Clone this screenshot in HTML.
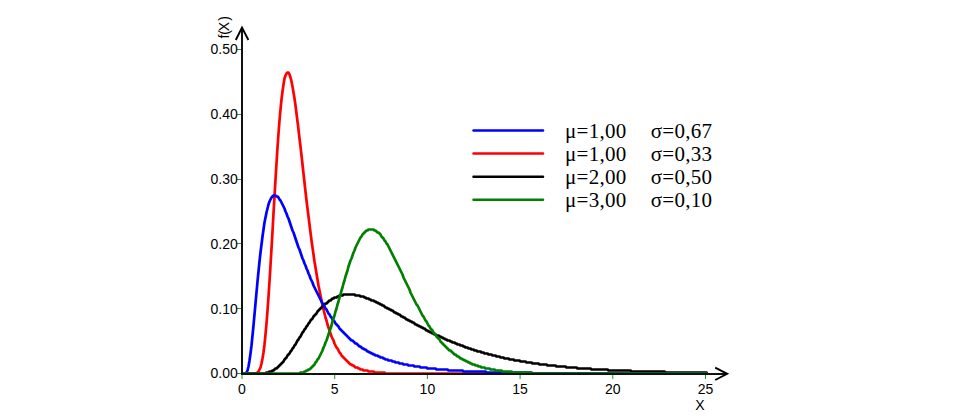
<!DOCTYPE html>
<html><head><meta charset="utf-8"><title>Lognormal distribution</title>
<style>
html,body{margin:0;padding:0;background:#fff;}
body{width:963px;height:418px;overflow:hidden;}
svg{display:block;}
.ax{font-family:"Liberation Sans",Arial,sans-serif;font-size:14px;fill:#000;}
.lg{font-family:"Liberation Serif","Times New Roman",serif;font-size:21px;fill:#000;letter-spacing:0.3px;}
</style></head><body>
<svg width="963" height="418" viewBox="0 0 963 418">
<polyline points="242.50,373.50 256.50,373.50 258.50,371.50 260.50,367.50 261.50,363.50 262.50,358.50 263.50,352.50 264.50,344.50 265.50,334.50 266.50,323.50 267.50,310.50 268.50,296.50 269.50,281.50 270.50,265.50 272.50,231.50 273.50,213.50 275.50,179.50 277.50,147.50 278.50,133.50 279.50,120.50 280.50,109.50 281.50,99.50 282.50,91.50 283.50,84.50 284.50,78.50 285.50,75.50 286.50,73.50 287.50,72.50 288.50,72.50 289.50,74.50 290.50,77.50 291.50,81.50 292.50,86.50 294.50,98.50 295.50,105.50 298.50,129.50 299.50,138.50 300.50,146.50 306.50,200.50 311.50,240.50 314.50,261.50 318.50,285.50 322.50,305.50 325.50,317.50 326.50,320.50 327.50,324.50 331.50,336.50 333.50,340.50 334.50,343.50 336.50,347.50 337.50,348.50 339.50,352.50 340.50,353.50 341.50,355.50 350.50,364.50 351.50,364.50 352.50,365.50 353.50,365.50 355.50,367.50 357.50,367.50 358.50,368.50 359.50,368.50 360.50,369.50 362.50,369.50 363.50,370.50 367.50,370.50 368.50,371.50 373.50,371.50 374.50,372.50 384.50,372.50 385.50,373.50 706.50,373.50" fill="none" stroke="#ff0000" stroke-width="2.7" stroke-linejoin="round" stroke-linecap="round"/>
<polyline points="242.50,373.50 265.50,373.50 266.50,372.50 268.50,372.50 269.50,371.50 271.50,371.50 272.50,370.50 273.50,370.50 275.50,368.50 276.50,368.50 283.50,361.50 284.50,359.50 286.50,357.50 287.50,355.50 289.50,353.50 290.50,351.50 291.50,350.50 292.50,348.50 293.50,347.50 294.50,345.50 295.50,344.50 297.50,340.50 298.50,339.50 299.50,337.50 300.50,336.50 302.50,332.50 303.50,331.50 304.50,329.50 305.50,328.50 306.50,326.50 307.50,325.50 308.50,323.50 309.50,322.50 310.50,320.50 312.50,318.50 313.50,316.50 316.50,313.50 317.50,311.50 325.50,303.50 326.50,303.50 329.50,300.50 330.50,300.50 332.50,298.50 333.50,298.50 334.50,297.50 336.50,297.50 337.50,296.50 338.50,296.50 339.50,295.50 342.50,295.50 343.50,294.50 354.50,294.50 355.50,295.50 359.50,295.50 360.50,296.50 363.50,296.50 364.50,297.50 365.50,297.50 366.50,298.50 368.50,298.50 369.50,299.50 370.50,299.50 371.50,300.50 373.50,300.50 374.50,301.50 375.50,301.50 376.50,302.50 377.50,302.50 378.50,303.50 379.50,303.50 380.50,304.50 381.50,304.50 382.50,305.50 383.50,305.50 385.50,307.50 386.50,307.50 387.50,308.50 388.50,308.50 389.50,309.50 390.50,309.50 391.50,310.50 392.50,310.50 394.50,312.50 395.50,312.50 396.50,313.50 397.50,313.50 398.50,314.50 399.50,314.50 401.50,316.50 402.50,316.50 403.50,317.50 404.50,317.50 406.50,319.50 407.50,319.50 408.50,320.50 409.50,320.50 410.50,321.50 411.50,321.50 412.50,322.50 413.50,322.50 415.50,324.50 416.50,324.50 417.50,325.50 418.50,325.50 419.50,326.50 420.50,326.50 421.50,327.50 422.50,327.50 423.50,328.50 424.50,328.50 426.50,330.50 427.50,330.50 428.50,331.50 429.50,331.50 430.50,332.50 431.50,332.50 432.50,333.50 433.50,333.50 434.50,334.50 435.50,334.50 436.50,335.50 438.50,335.50 439.50,336.50 440.50,336.50 441.50,337.50 442.50,337.50 443.50,338.50 444.50,338.50 445.50,339.50 446.50,339.50 447.50,340.50 449.50,340.50 450.50,341.50 451.50,341.50 452.50,342.50 454.50,342.50 455.50,343.50 456.50,343.50 457.50,344.50 459.50,344.50 460.50,345.50 462.50,345.50 463.50,346.50 464.50,346.50 465.50,347.50 467.50,347.50 468.50,348.50 470.50,348.50 471.50,349.50 473.50,349.50 474.50,350.50 476.50,350.50 477.50,351.50 480.50,351.50 481.50,352.50 483.50,352.50 484.50,353.50 487.50,353.50 488.50,354.50 491.50,354.50 492.50,355.50 495.50,355.50 496.50,356.50 499.50,356.50 500.50,357.50 503.50,357.50 504.50,358.50 508.50,358.50 509.50,359.50 513.50,359.50 514.50,360.50 519.50,360.50 520.50,361.50 525.50,361.50 526.50,362.50 531.50,362.50 532.50,363.50 538.50,363.50 539.50,364.50 546.50,364.50 547.50,365.50 555.50,365.50 556.50,366.50 565.50,366.50 566.50,367.50 576.50,367.50 577.50,368.50 590.50,368.50 591.50,369.50 607.50,369.50 608.50,370.50 630.50,370.50 631.50,371.50 664.50,371.50 665.50,372.50 706.50,372.50" fill="none" stroke="#000000" stroke-width="2.7" stroke-linejoin="round" stroke-linecap="round"/>
<polyline points="242.50,373.50 245.50,373.50 246.50,372.50 247.50,370.50 248.50,366.50 249.50,360.50 250.50,353.50 251.50,345.50 253.50,325.50 257.50,281.50 259.50,261.50 260.50,252.50 262.50,236.50 264.50,222.50 266.50,212.50 268.50,204.50 269.50,201.50 271.50,197.50 273.50,195.50 275.50,195.50 276.50,196.50 277.50,196.50 278.50,197.50 279.50,199.50 280.50,200.50 284.50,208.50 285.50,211.50 286.50,213.50 287.50,216.50 288.50,218.50 292.50,230.50 293.50,232.50 298.50,247.50 299.50,249.50 302.50,258.50 303.50,260.50 304.50,263.50 305.50,265.50 306.50,268.50 307.50,270.50 308.50,273.50 309.50,275.50 310.50,278.50 312.50,282.50 313.50,285.50 322.50,303.50 323.50,304.50 325.50,308.50 326.50,309.50 328.50,313.50 329.50,314.50 330.50,316.50 331.50,317.50 332.50,319.50 334.50,321.50 335.50,323.50 338.50,326.50 339.50,328.50 351.50,340.50 352.50,340.50 355.50,343.50 356.50,343.50 359.50,346.50 360.50,346.50 362.50,348.50 363.50,348.50 364.50,349.50 365.50,349.50 367.50,351.50 368.50,351.50 369.50,352.50 370.50,352.50 371.50,353.50 372.50,353.50 373.50,354.50 374.50,354.50 375.50,355.50 377.50,355.50 378.50,356.50 379.50,356.50 380.50,357.50 382.50,357.50 383.50,358.50 384.50,358.50 385.50,359.50 387.50,359.50 388.50,360.50 391.50,360.50 392.50,361.50 394.50,361.50 395.50,362.50 398.50,362.50 399.50,363.50 402.50,363.50 403.50,364.50 407.50,364.50 408.50,365.50 413.50,365.50 414.50,366.50 419.50,366.50 420.50,367.50 426.50,367.50 427.50,368.50 435.50,368.50 436.50,369.50 447.50,369.50 448.50,370.50 462.50,370.50 463.50,371.50 485.50,371.50 486.50,372.50 531.50,372.50 532.50,373.50 706.50,373.50" fill="none" stroke="#0000ff" stroke-width="2.7" stroke-linejoin="round" stroke-linecap="round"/>
<polyline points="242.50,373.50 299.50,373.50 300.50,372.50 303.50,372.50 304.50,371.50 305.50,371.50 306.50,370.50 307.50,370.50 308.50,369.50 309.50,369.50 314.50,364.50 315.50,362.50 316.50,361.50 317.50,359.50 318.50,358.50 322.50,350.50 323.50,347.50 324.50,345.50 325.50,342.50 326.50,340.50 331.50,325.50 332.50,321.50 334.50,315.50 335.50,311.50 336.50,308.50 337.50,304.50 338.50,301.50 339.50,297.50 340.50,294.50 341.50,290.50 342.50,287.50 343.50,283.50 344.50,280.50 345.50,276.50 347.50,270.50 348.50,266.50 350.50,260.50 351.50,258.50 353.50,252.50 354.50,250.50 355.50,247.50 360.50,237.50 361.50,236.50 362.50,234.50 366.50,230.50 367.50,230.50 368.50,229.50 373.50,229.50 374.50,230.50 375.50,230.50 377.50,232.50 378.50,232.50 380.50,234.50 381.50,236.50 383.50,238.50 384.50,240.50 385.50,241.50 386.50,243.50 387.50,244.50 402.50,274.50 403.50,277.50 409.50,289.50 410.50,292.50 416.50,304.50 417.50,305.50 422.50,315.50 423.50,316.50 425.50,320.50 426.50,321.50 428.50,325.50 429.50,326.50 430.50,328.50 432.50,330.50 433.50,332.50 435.50,334.50 436.50,336.50 439.50,339.50 440.50,341.50 449.50,350.50 450.50,350.50 454.50,354.50 455.50,354.50 457.50,356.50 458.50,356.50 460.50,358.50 461.50,358.50 462.50,359.50 463.50,359.50 464.50,360.50 465.50,360.50 466.50,361.50 467.50,361.50 468.50,362.50 469.50,362.50 470.50,363.50 471.50,363.50 472.50,364.50 474.50,364.50 475.50,365.50 477.50,365.50 478.50,366.50 480.50,366.50 481.50,367.50 484.50,367.50 485.50,368.50 489.50,368.50 490.50,369.50 494.50,369.50 495.50,370.50 501.50,370.50 502.50,371.50 511.50,371.50 512.50,372.50 530.50,372.50 531.50,373.50 706.50,373.50" fill="none" stroke="#008000" stroke-width="2.7" stroke-linejoin="round" stroke-linecap="round"/>
<line x1="237" y1="373.5" x2="241" y2="373.5" stroke="#1f9a1f" stroke-width="1"/>
<line x1="237" y1="308.5" x2="241" y2="308.5" stroke="#1f9a1f" stroke-width="1"/>
<line x1="237" y1="243.5" x2="241" y2="243.5" stroke="#1f9a1f" stroke-width="1"/>
<line x1="237" y1="179.5" x2="241" y2="179.5" stroke="#1f9a1f" stroke-width="1"/>
<line x1="237" y1="114.5" x2="241" y2="114.5" stroke="#1f9a1f" stroke-width="1"/>
<line x1="237" y1="49.5" x2="241" y2="49.5" stroke="#1f9a1f" stroke-width="1"/>
<line x1="242.00" y1="375" x2="242.00" y2="379" stroke="#1f9a1f" stroke-width="1"/>
<line x1="334.70" y1="375" x2="334.70" y2="379" stroke="#1f9a1f" stroke-width="1"/>
<line x1="427.40" y1="375" x2="427.40" y2="379" stroke="#1f9a1f" stroke-width="1"/>
<line x1="520.10" y1="375" x2="520.10" y2="379" stroke="#1f9a1f" stroke-width="1"/>
<line x1="612.80" y1="375" x2="612.80" y2="379" stroke="#1f9a1f" stroke-width="1"/>
<line x1="705.50" y1="375" x2="705.50" y2="379" stroke="#1f9a1f" stroke-width="1"/>
<line x1="242" y1="27" x2="242" y2="375" stroke="#111" stroke-width="2"/>
<line x1="241" y1="374" x2="726" y2="374" stroke="#111" stroke-width="2"/>
<polyline points="235.8,40 242,27.6 248.4,40" fill="none" stroke="#000" stroke-width="1.9"/>
<polyline points="715.2,367.6 727.2,373.8 715.2,380" fill="none" stroke="#000" stroke-width="1.9"/>
<text x="237.8" y="378.30" text-anchor="end" class="ax">0.00</text>
<text x="237.8" y="313.50" text-anchor="end" class="ax">0.10</text>
<text x="237.8" y="248.70" text-anchor="end" class="ax">0.20</text>
<text x="237.8" y="183.90" text-anchor="end" class="ax">0.30</text>
<text x="237.8" y="119.10" text-anchor="end" class="ax">0.40</text>
<text x="237.8" y="54.30" text-anchor="end" class="ax">0.50</text>
<text x="242.00" y="394" text-anchor="middle" class="ax">0</text>
<text x="334.70" y="394" text-anchor="middle" class="ax">5</text>
<text x="427.40" y="394" text-anchor="middle" class="ax">10</text>
<text x="520.10" y="394" text-anchor="middle" class="ax">15</text>
<text x="612.80" y="394" text-anchor="middle" class="ax">20</text>
<text x="705.50" y="394" text-anchor="middle" class="ax">25</text>
<text x="700" y="409.5" text-anchor="middle" class="ax">X</text>
<text transform="translate(229.2,27.25) rotate(-90)" text-anchor="middle" class="ax">f(<tspan dx="-1.2">X</tspan><tspan dx="1.2">)</tspan></text>
<line x1="473.5" y1="130.5" x2="543" y2="130.5" stroke="#0000ff" stroke-width="2.5" stroke-linecap="round"/>
<text x="565" y="138.10" class="lg">μ=1,00</text>
<text x="650.7" y="138.10" class="lg">σ=0,67</text>
<line x1="473.5" y1="153.57" x2="543" y2="153.57" stroke="#ff0000" stroke-width="2.5" stroke-linecap="round"/>
<text x="565" y="161.17" class="lg">μ=1,00</text>
<text x="650.7" y="161.17" class="lg">σ=0,33</text>
<line x1="473.5" y1="176.64" x2="543" y2="176.64" stroke="#000000" stroke-width="2.5" stroke-linecap="round"/>
<text x="565" y="184.24" class="lg">μ=2,00</text>
<text x="650.7" y="184.24" class="lg">σ=0,50</text>
<line x1="473.5" y1="199.71" x2="543" y2="199.71" stroke="#008000" stroke-width="2.5" stroke-linecap="round"/>
<text x="565" y="207.31" class="lg">μ=3,00</text>
<text x="650.7" y="207.31" class="lg">σ=0,10</text>
</svg>
</body></html>
